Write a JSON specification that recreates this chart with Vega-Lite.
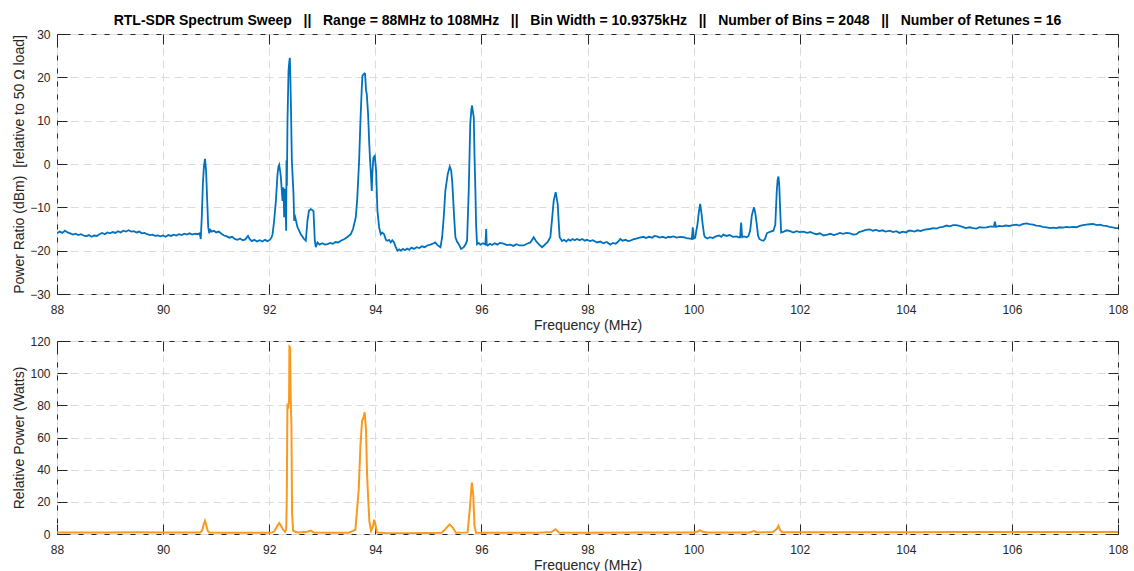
{
  "$schema": "https://vega.github.io/schema/vega-lite/v6.json",
  "background": "white",
  "padding": {"left": 12, "top": 13, "right": 12, "bottom": 0},
  "spacing": 1,
  "config": {
    "font": "Liberation Sans",
    "view": {"stroke": "#262626", "strokeWidth": 1},
    "axis": {
      "domain": false,
      "tickSize": -10,
      "tickColor": "#262626",
      "labelColor": "#262626",
      "labelFontSize": 12,
      "labelFlush": false,
      "labelOverlap": false,
      "labelPadding": 17,
      "titleFontSize": 14,
      "titleFontWeight": "normal",
      "titleColor": "#262626",
      "gridColor": "#dcdcdc",
      "gridDash": [8, 5],
      "gridWidth": 1
    },
    "axisX": {"labelPadding": 20}
  },
  "datasets": {
    "top": [
      {"f":88.00,"v":-16.0},{"f":88.05,"v":-15.6},{"f":88.10,"v":-15.9},{"f":88.15,"v":-15.4},{"f":88.20,"v":-15.8},{"f":88.25,"v":-16.0},{"f":88.30,"v":-16.3},{"f":88.35,"v":-16.1},{"f":88.40,"v":-16.4},{"f":88.45,"v":-16.2},{"f":88.50,"v":-16.5},{"f":88.55,"v":-16.7},{"f":88.60,"v":-16.4},{"f":88.65,"v":-16.8},{"f":88.70,"v":-16.5},{"f":88.75,"v":-16.6},{"f":88.80,"v":-16.2},{"f":88.85,"v":-15.9},{"f":88.90,"v":-16.2},{"f":88.95,"v":-15.8},
      {"f":89.00,"v":-16.0},{"f":89.05,"v":-15.7},{"f":89.10,"v":-15.9},{"f":89.15,"v":-15.5},{"f":89.20,"v":-15.8},{"f":89.25,"v":-15.4},{"f":89.30,"v":-15.6},{"f":89.35,"v":-15.3},{"f":89.40,"v":-15.6},{"f":89.45,"v":-15.5},{"f":89.50,"v":-15.8},{"f":89.55,"v":-15.6},{"f":89.60,"v":-16.0},{"f":89.65,"v":-15.9},{"f":89.70,"v":-16.2},{"f":89.75,"v":-16.4},{"f":89.80,"v":-16.3},{"f":89.85,"v":-16.6},{"f":89.90,"v":-16.5},{"f":89.95,"v":-16.7},
      {"f":90.00,"v":-16.5},{"f":90.05,"v":-16.8},{"f":90.10,"v":-16.4},{"f":90.15,"v":-16.6},{"f":90.20,"v":-16.3},{"f":90.25,"v":-16.5},{"f":90.30,"v":-16.2},{"f":90.35,"v":-16.4},{"f":90.40,"v":-16.1},{"f":90.45,"v":-16.3},{"f":90.50,"v":-16.0},{"f":90.55,"v":-16.3},{"f":90.60,"v":-16.1},{"f":90.65,"v":-16.2},{"f":90.69,"v":-16.0},{"f":90.71,"v":-17.3},{"f":90.73,"v":-12.0},{"f":90.75,"v":-4.5},{"f":90.77,"v":-0.5},{"f":90.79,"v":1.2},{"f":90.81,"v":-1.5},{"f":90.83,"v":-8.0},{"f":90.85,"v":-14.5},{"f":90.87,"v":-16.0},{"f":90.89,"v":-15.2},{"f":90.92,"v":-15.6},{"f":90.96,"v":-15.4},
      {"f":91.00,"v":-15.8},{"f":91.05,"v":-15.6},{"f":91.10,"v":-16.1},{"f":91.15,"v":-16.5},{"f":91.20,"v":-16.7},{"f":91.25,"v":-17.0},{"f":91.30,"v":-16.8},{"f":91.35,"v":-17.3},{"f":91.40,"v":-17.5},{"f":91.45,"v":-17.2},{"f":91.50,"v":-17.6},{"f":91.55,"v":-17.4},{"f":91.60,"v":-16.6},{"f":91.63,"v":-17.3},{"f":91.67,"v":-17.8},{"f":91.72,"v":-17.5},{"f":91.77,"v":-17.9},{"f":91.82,"v":-17.6},{"f":91.87,"v":-17.9},{"f":91.92,"v":-17.5},{"f":91.97,"v":-17.8},
      {"f":92.02,"v":-17.4},{"f":92.045,"v":-16.9},{"f":92.063,"v":-16.2},{"f":92.09,"v":-13.5},{"f":92.126,"v":-8.5},{"f":92.157,"v":-2.3},{"f":92.175,"v":-0.6},{"f":92.188,"v":-0.2},{"f":92.205,"v":-1.5},{"f":92.22,"v":-3.1},{"f":92.251,"v":-8.5},{"f":92.27,"v":-5.4},{"f":92.282,"v":-12.3},{"f":92.301,"v":-5.8},{"f":92.32,"v":-15.4},{"f":92.326,"v":0.8},{"f":92.333,"v":-5.0},{"f":92.345,"v":10.0},{"f":92.364,"v":21.5},{"f":92.378,"v":23.6},{"f":92.389,"v":24.5},{"f":92.396,"v":21.5},{"f":92.408,"v":14.6},{"f":92.427,"v":0.8},{"f":92.458,"v":-6.9},{"f":92.471,"v":-13.1},{"f":92.49,"v":-12.3},{"f":92.534,"v":-14.6},{"f":92.596,"v":-16.2},{"f":92.65,"v":-17.2},{"f":92.69,"v":-17.7},{"f":92.722,"v":-13.0},{"f":92.75,"v":-10.8},{"f":92.785,"v":-10.4},{"f":92.81,"v":-10.6},{"f":92.835,"v":-10.9},{"f":92.86,"v":-17.7},{"f":92.879,"v":-19.2},{"f":92.91,"v":-18.1},{"f":92.95,"v":-18.6},
      {"f":93.00,"v":-18.3},{"f":93.05,"v":-18.6},{"f":93.10,"v":-18.5},{"f":93.15,"v":-18.2},{"f":93.20,"v":-18.4},{"f":93.25,"v":-18.0},{"f":93.30,"v":-18.1},{"f":93.35,"v":-17.7},{"f":93.42,"v":-17.3},{"f":93.48,"v":-16.8},{"f":93.538,"v":-16.2},{"f":93.58,"v":-15.0},{"f":93.632,"v":-12.3},{"f":93.66,"v":-8.0},{"f":93.695,"v":0.8},{"f":93.72,"v":10.0},{"f":93.745,"v":17.5},{"f":93.758,"v":20.4},{"f":93.78,"v":20.7},{"f":93.795,"v":20.9},{"f":93.808,"v":20.8},{"f":93.825,"v":17.0},{"f":93.839,"v":16.2},{"f":93.864,"v":11.5},{"f":93.885,"v":5.0},{"f":93.902,"v":0.8},{"f":93.92,"v":-3.0},{"f":93.933,"v":-6.2},{"f":93.945,"v":-2.0},{"f":93.965,"v":1.5},{"f":93.99,"v":1.9},{"f":94.015,"v":-1.5},{"f":94.04,"v":-10.8},{"f":94.072,"v":-14.6},{"f":94.103,"v":-16.2},{"f":94.13,"v":-15.8},{"f":94.166,"v":-16.2},{"f":94.20,"v":-17.5},{"f":94.228,"v":-17.7},{"f":94.26,"v":-17.5},{"f":94.291,"v":-18.1},{"f":94.32,"v":-17.6},{"f":94.354,"v":-18.1},{"f":94.38,"v":-19.0},{"f":94.417,"v":-20.0},{"f":94.45,"v":-19.7},{"f":94.48,"v":-20.0},{"f":94.52,"v":-19.6},{"f":94.56,"v":-19.9},{"f":94.60,"v":-19.5},{"f":94.64,"v":-19.8},{"f":94.68,"v":-19.3},{"f":94.73,"v":-19.6},{"f":94.78,"v":-19.2},{"f":94.83,"v":-19.4},{"f":94.88,"v":-19.0},{"f":94.93,"v":-19.2},{"f":94.98,"v":-18.8},
      {"f":95.04,"v":-18.6},{"f":95.10,"v":-18.3},{"f":95.13,"v":-18.1},{"f":95.165,"v":-18.6},{"f":95.20,"v":-19.0},{"f":95.228,"v":-19.2},{"f":95.26,"v":-16.9},{"f":95.29,"v":-12.3},{"f":95.32,"v":-6.2},{"f":95.366,"v":-2.3},{"f":95.404,"v":-0.6},{"f":95.43,"v":-1.5},{"f":95.45,"v":-4.0},{"f":95.466,"v":-7.7},{"f":95.49,"v":-13.0},{"f":95.51,"v":-16.9},{"f":95.54,"v":-17.9},{"f":95.573,"v":-18.5},{"f":95.617,"v":-19.6},{"f":95.667,"v":-19.2},{"f":95.70,"v":-18.6},{"f":95.73,"v":-17.7},{"f":95.761,"v":-6.2},{"f":95.79,"v":9.2},{"f":95.81,"v":12.5},{"f":95.824,"v":13.5},{"f":95.84,"v":12.0},{"f":95.856,"v":10.8},{"f":95.87,"v":2.0},{"f":95.887,"v":-6.2},{"f":95.90,"v":-14.0},{"f":95.918,"v":-18.5},{"f":95.95,"v":-18.2},{"f":95.981,"v":-18.6},
      {"f":96.03,"v":-18.3},{"f":96.075,"v":-18.6},{"f":96.09,"v":-15.0},{"f":96.10,"v":-18.6},{"f":96.12,"v":-18.8},{"f":96.16,"v":-18.4},{"f":96.20,"v":-18.7},{"f":96.25,"v":-18.3},{"f":96.30,"v":-18.6},{"f":96.35,"v":-18.2},{"f":96.42,"v":-18.4},{"f":96.48,"v":-18.7},{"f":96.546,"v":-18.6},{"f":96.60,"v":-18.9},{"f":96.66,"v":-18.5},{"f":96.72,"v":-18.8},{"f":96.797,"v":-18.8},{"f":96.86,"v":-18.4},{"f":96.923,"v":-18.1},{"f":96.96,"v":-17.4},{"f":96.986,"v":-16.9},{"f":97.02,"v":-17.6},{"f":97.05,"v":-18.1},{"f":97.10,"v":-18.7},{"f":97.143,"v":-19.2},{"f":97.18,"v":-18.8},{"f":97.206,"v":-18.5},{"f":97.25,"v":-18.0},{"f":97.30,"v":-16.9},{"f":97.33,"v":-13.0},{"f":97.363,"v":-8.5},{"f":97.40,"v":-6.5},{"f":97.438,"v":-9.2},{"f":97.46,"v":-14.0},{"f":97.475,"v":-16.9},{"f":97.52,"v":-17.8},{"f":97.56,"v":-17.5},{"f":97.60,"v":-17.9},{"f":97.64,"v":-17.4},{"f":97.676,"v":-17.7},{"f":97.72,"v":-17.3},{"f":97.76,"v":-17.6},{"f":97.80,"v":-17.3},{"f":97.85,"v":-17.6},{"f":97.90,"v":-17.3},{"f":97.95,"v":-17.7},{"f":97.99,"v":-17.5},
      {"f":98.05,"v":-17.8},{"f":98.10,"v":-17.6},{"f":98.18,"v":-18.1},{"f":98.24,"v":-17.9},{"f":98.30,"v":-18.3},{"f":98.36,"v":-18.0},{"f":98.43,"v":-18.6},{"f":98.48,"v":-18.2},{"f":98.53,"v":-18.4},{"f":98.58,"v":-17.9},{"f":98.618,"v":-17.3},{"f":98.66,"v":-17.7},{"f":98.72,"v":-17.5},{"f":98.76,"v":-17.8},{"f":98.806,"v":-17.7},{"f":98.86,"v":-17.4},{"f":98.92,"v":-17.2},{"f":98.98,"v":-17.0},
      {"f":99.057,"v":-16.8},{"f":99.10,"v":-17.1},{"f":99.16,"v":-16.8},{"f":99.22,"v":-17.0},{"f":99.26,"v":-16.6},{"f":99.308,"v":-16.7},{"f":99.36,"v":-17.0},{"f":99.42,"v":-16.8},{"f":99.48,"v":-17.1},{"f":99.52,"v":-16.8},{"f":99.56,"v":-16.9},{"f":99.62,"v":-16.7},{"f":99.68,"v":-17.0},{"f":99.74,"v":-16.8},{"f":99.81,"v":-16.9},{"f":99.87,"v":-17.1},{"f":99.93,"v":-17.2},{"f":99.967,"v":-17.3},{"f":99.985,"v":-14.6},
      {"f":100.00,"v":-17.2},{"f":100.03,"v":-17.0},{"f":100.05,"v":-15.5},{"f":100.074,"v":-13.8},{"f":100.10,"v":-11.0},{"f":100.124,"v":-9.2},{"f":100.15,"v":-11.5},{"f":100.17,"v":-13.8},{"f":100.20,"v":-16.5},{"f":100.22,"v":-16.9},{"f":100.26,"v":-17.2},{"f":100.31,"v":-16.9},{"f":100.36,"v":-17.1},{"f":100.42,"v":-16.7},{"f":100.48,"v":-16.5},{"f":100.52,"v":-16.8},{"f":100.56,"v":-16.3},{"f":100.62,"v":-16.6},{"f":100.68,"v":-16.4},{"f":100.74,"v":-16.8},{"f":100.81,"v":-16.7},{"f":100.85,"v":-16.9},{"f":100.877,"v":-16.9},{"f":100.896,"v":-13.5},{"f":100.915,"v":-16.9},{"f":100.95,"v":-16.7},
      {"f":101.00,"v":-16.9},{"f":101.035,"v":-16.6},{"f":101.066,"v":-15.4},{"f":101.097,"v":-11.9},{"f":101.12,"v":-10.8},{"f":101.14,"v":-10.0},{"f":101.165,"v":-11.5},{"f":101.19,"v":-13.8},{"f":101.215,"v":-16.5},{"f":101.24,"v":-17.3},{"f":101.28,"v":-17.6},{"f":101.317,"v":-17.7},{"f":101.35,"v":-17.2},{"f":101.38,"v":-16.0},{"f":101.41,"v":-15.8},{"f":101.45,"v":-15.6},{"f":101.505,"v":-15.4},{"f":101.54,"v":-14.0},{"f":101.568,"v":-6.2},{"f":101.585,"v":-3.5},{"f":101.60,"v":-2.9},{"f":101.615,"v":-5.0},{"f":101.63,"v":-10.0},{"f":101.65,"v":-15.8},{"f":101.70,"v":-15.6},{"f":101.76,"v":-15.3},{"f":101.82,"v":-15.5},{"f":101.88,"v":-15.8},{"f":101.94,"v":-15.5},
      {"f":102.00,"v":-15.7},{"f":102.07,"v":-15.6},{"f":102.14,"v":-15.9},{"f":102.20,"v":-15.7},{"f":102.26,"v":-16.0},{"f":102.32,"v":-16.2},{"f":102.38,"v":-16.0},{"f":102.45,"v":-16.5},{"f":102.52,"v":-16.3},{"f":102.58,"v":-16.1},{"f":102.64,"v":-16.4},{"f":102.70,"v":-16.2},{"f":102.76,"v":-15.9},{"f":102.82,"v":-16.1},{"f":102.88,"v":-15.9},{"f":102.95,"v":-16.0},
      {"f":103.01,"v":-16.3},{"f":103.07,"v":-16.2},{"f":103.12,"v":-15.7},{"f":103.18,"v":-15.5},{"f":103.25,"v":-15.2},{"f":103.32,"v":-15.1},{"f":103.38,"v":-15.4},{"f":103.44,"v":-15.2},{"f":103.50,"v":-15.5},{"f":103.56,"v":-15.3},{"f":103.62,"v":-15.6},{"f":103.70,"v":-15.4},{"f":103.76,"v":-15.7},{"f":103.82,"v":-15.5},{"f":103.88,"v":-15.9},{"f":103.94,"v":-15.6},
      {"f":104.01,"v":-15.8},{"f":104.05,"v":-15.4},{"f":104.10,"v":-15.4},{"f":104.16,"v":-15.6},{"f":104.22,"v":-15.3},{"f":104.28,"v":-15.5},{"f":104.34,"v":-15.2},{"f":104.39,"v":-15.1},{"f":104.45,"v":-15.0},{"f":104.52,"v":-14.8},{"f":104.58,"v":-14.9},{"f":104.64,"v":-14.6},{"f":104.70,"v":-14.5},{"f":104.77,"v":-14.2},{"f":104.83,"v":-14.4},{"f":104.89,"v":-14.1},{"f":104.95,"v":-14.1},
      {"f":105.01,"v":-14.3},{"f":105.07,"v":-14.5},{"f":105.13,"v":-14.8},{"f":105.20,"v":-14.6},{"f":105.27,"v":-14.8},{"f":105.33,"v":-14.9},{"f":105.39,"v":-14.6},{"f":105.46,"v":-14.7},{"f":105.52,"v":-14.6},{"f":105.60,"v":-14.4},{"f":105.66,"v":-14.5},{"f":105.68,"v":-13.3},{"f":105.70,"v":-14.5},{"f":105.76,"v":-14.3},{"f":105.82,"v":-14.4},{"f":105.88,"v":-14.2},{"f":105.95,"v":-14.3},
      {"f":106.02,"v":-14.1},{"f":106.08,"v":-14.0},{"f":106.14,"v":-14.2},{"f":106.20,"v":-13.9},{"f":106.27,"v":-13.7},{"f":106.33,"v":-13.9},{"f":106.40,"v":-14.0},{"f":106.46,"v":-14.2},{"f":106.52,"v":-14.3},{"f":106.58,"v":-14.5},{"f":106.65,"v":-14.6},{"f":106.72,"v":-14.8},{"f":106.78,"v":-14.7},{"f":106.84,"v":-14.8},{"f":106.90,"v":-14.6},{"f":106.96,"v":-14.7},
      {"f":107.03,"v":-14.5},{"f":107.09,"v":-14.6},{"f":107.15,"v":-14.5},{"f":107.22,"v":-14.6},{"f":107.28,"v":-14.3},{"f":107.34,"v":-14.1},{"f":107.40,"v":-14.0},{"f":107.47,"v":-13.9},{"f":107.53,"v":-13.8},{"f":107.60,"v":-14.1},{"f":107.66,"v":-14.0},{"f":107.72,"v":-14.2},{"f":107.78,"v":-14.3},{"f":107.84,"v":-14.5},{"f":107.90,"v":-14.6},{"f":107.96,"v":-14.8},{"f":108.00,"v":-14.8}
    ],
    "bot": [
      {"f":88.0,"v":1.0},{"f":88.5,"v":0.9},{"f":89.0,"v":1.0},{"f":89.5,"v":1.1},{"f":90.0,"v":0.9},{"f":90.5,"v":1.0},{"f":90.7,"v":0.9},{"f":90.74,"v":2.5},{"f":90.77,"v":6.5},{"f":90.79,"v":8.2},{"f":90.81,"v":6.0},{"f":90.84,"v":2.0},{"f":90.87,"v":1.0},{"f":91.2,"v":0.8},{"f":91.6,"v":0.8},{"f":92.0,"v":0.8},{"f":92.06,"v":1.0},{"f":92.1,"v":1.8},{"f":92.156,"v":5.2},{"f":92.188,"v":6.8},{"f":92.219,"v":5.2},{"f":92.27,"v":2.4},{"f":92.30,"v":1.4},{"f":92.32,"v":3.0},{"f":92.33,"v":17.5},{"f":92.344,"v":81},{"f":92.36,"v":78},{"f":92.375,"v":84.5},{"f":92.381,"v":116.5},{"f":92.394,"v":116},{"f":92.406,"v":83.5},{"f":92.419,"v":67},{"f":92.431,"v":13},{"f":92.45,"v":2.0},{"f":92.53,"v":1.0},{"f":92.72,"v":1.4},{"f":92.78,"v":2.1},{"f":92.84,"v":1.0},{"f":93.2,"v":0.7},{"f":93.5,"v":0.8},{"f":93.625,"v":2.6},{"f":93.688,"v":28},{"f":93.72,"v":55},{"f":93.75,"v":70},{"f":93.78,"v":73},{"f":93.8,"v":75.7},{"f":93.825,"v":65},{"f":93.844,"v":38},{"f":93.86,"v":26},{"f":93.888,"v":8},{"f":93.92,"v":2.0},{"f":93.95,"v":4.1},{"f":93.98,"v":8.9},{"f":94.0,"v":6.2},{"f":94.03,"v":1.0},{"f":94.2,"v":0.6},{"f":94.6,"v":0.5},{"f":95.0,"v":0.6},{"f":95.25,"v":0.8},{"f":95.32,"v":3.0},{"f":95.40,"v":6.0},{"f":95.46,"v":4.0},{"f":95.52,"v":0.8},{"f":95.74,"v":1.0},{"f":95.78,"v":15},{"f":95.82,"v":32},{"f":95.845,"v":25},{"f":95.87,"v":5},{"f":95.9,"v":0.8},{"f":96.5,"v":0.7},{"f":97.0,"v":0.7},{"f":97.32,"v":1.2},{"f":97.40,"v":3.0},{"f":97.46,"v":1.0},{"f":98.0,"v":0.8},{"f":99.0,"v":0.9},{"f":100.0,"v":0.9},{"f":100.08,"v":1.5},{"f":100.12,"v":2.4},{"f":100.17,"v":1.4},{"f":100.25,"v":0.9},{"f":101.05,"v":1.0},{"f":101.14,"v":1.8},{"f":101.2,"v":1.0},{"f":101.5,"v":1.2},{"f":101.57,"v":3.2},{"f":101.6,"v":5.0},{"f":101.63,"v":2.5},{"f":101.67,"v":1.1},{"f":102.5,"v":1.1},{"f":103.0,"v":1.1},{"f":104.0,"v":1.1},{"f":105.0,"v":1.2},{"f":106.0,"v":1.3},{"f":107.0,"v":1.3},{"f":108.0,"v":1.2}
    ]
  },
  "vconcat": [
    {
      "width": 1061,
      "height": 260,
      "title": {
        "text": "RTL-SDR Spectrum Sweep\u00a0\u00a0 ||\u00a0\u00a0 Range = 88MHz to 108MHz\u00a0\u00a0 ||\u00a0\u00a0 Bin Width = 10.9375kHz\u00a0\u00a0 ||\u00a0\u00a0 Number of Bins = 2048\u00a0\u00a0 ||\u00a0\u00a0 Number of Retunes = 16",
        "anchor": "middle",
        "frame": "group",
        "fontSize": 14,
        "fontWeight": "bold",
        "color": "#000000",
        "offset": 0
      },
      "data": {"name": "top"},
      "layer": [
        {
          "mark": {"type": "line", "color": "#0072BD", "strokeWidth": 1.8, "clip": true},
          "encoding": {
            "x": {"field": "f", "type": "quantitative", "scale": {"domain": [88, 108], "nice": false, "zero": false},
                  "axis": {"values": [88,90,92,94,96,98,100,102,104,106,108], "format": "d", "title": "Frequency (MHz)", "grid": true, "titlePadding": 3.5}},
            "y": {"field": "v", "type": "quantitative", "scale": {"domain": [-30, 30], "nice": false, "zero": false},
                  "axis": {"values": [-30,-20,-10,0,10,20,30], "format": "d", "title": "Power Ratio (dBm)\u00a0\u00a0[relative to 50 Ω load]", "grid": true, "titlePadding": 3}}
          }
        },
        {
          "mark": {"type": "line", "opacity": 0},
          "encoding": {
            "x": {"field": "f", "type": "quantitative", "scale": {"domain": [88, 108], "nice": false, "zero": false},
                  "axis": {"orient": "top", "values": [88,90,92,94,96,98,100,102,104,106,108], "labels": false, "title": null, "grid": false}},
            "y": {"field": "v", "type": "quantitative", "scale": {"domain": [-30, 30], "nice": false, "zero": false},
                  "axis": {"orient": "right", "values": [-30,-20,-10,0,10,20,30], "labels": false, "title": null, "grid": false}}
          }
        }
      ],
      "resolve": {"axis": {"x": "independent", "y": "independent"}}
    },
    {
      "width": 1061,
      "height": 193,
      "data": {"name": "bot"},
      "layer": [
        {
          "mark": {"type": "line", "color": "#F99A1F", "strokeWidth": 2, "clip": true},
          "encoding": {
            "x": {"field": "f", "type": "quantitative", "scale": {"domain": [88, 108], "nice": false, "zero": false},
                  "axis": {"values": [88,90,92,94,96,98,100,102,104,106,108], "format": "d", "title": "Frequency (MHz)", "grid": true, "titlePadding": 3.5}},
            "y": {"field": "v", "type": "quantitative", "scale": {"domain": [0, 120], "nice": false},
                  "axis": {"values": [0,20,40,60,80,100,120], "format": "d", "title": "Relative Power (Watts)", "grid": true, "titlePadding": 3}}
          }
        },
        {
          "mark": {"type": "line", "opacity": 0},
          "encoding": {
            "x": {"field": "f", "type": "quantitative", "scale": {"domain": [88, 108], "nice": false, "zero": false},
                  "axis": {"orient": "top", "values": [88,90,92,94,96,98,100,102,104,106,108], "labels": false, "title": null, "grid": false}},
            "y": {"field": "v", "type": "quantitative", "scale": {"domain": [0, 120], "nice": false},
                  "axis": {"orient": "right", "values": [0,20,40,60,80,100,120], "labels": false, "title": null, "grid": false}}
          }
        }
      ],
      "resolve": {"axis": {"x": "independent", "y": "independent"}}
    }
  ]
}
